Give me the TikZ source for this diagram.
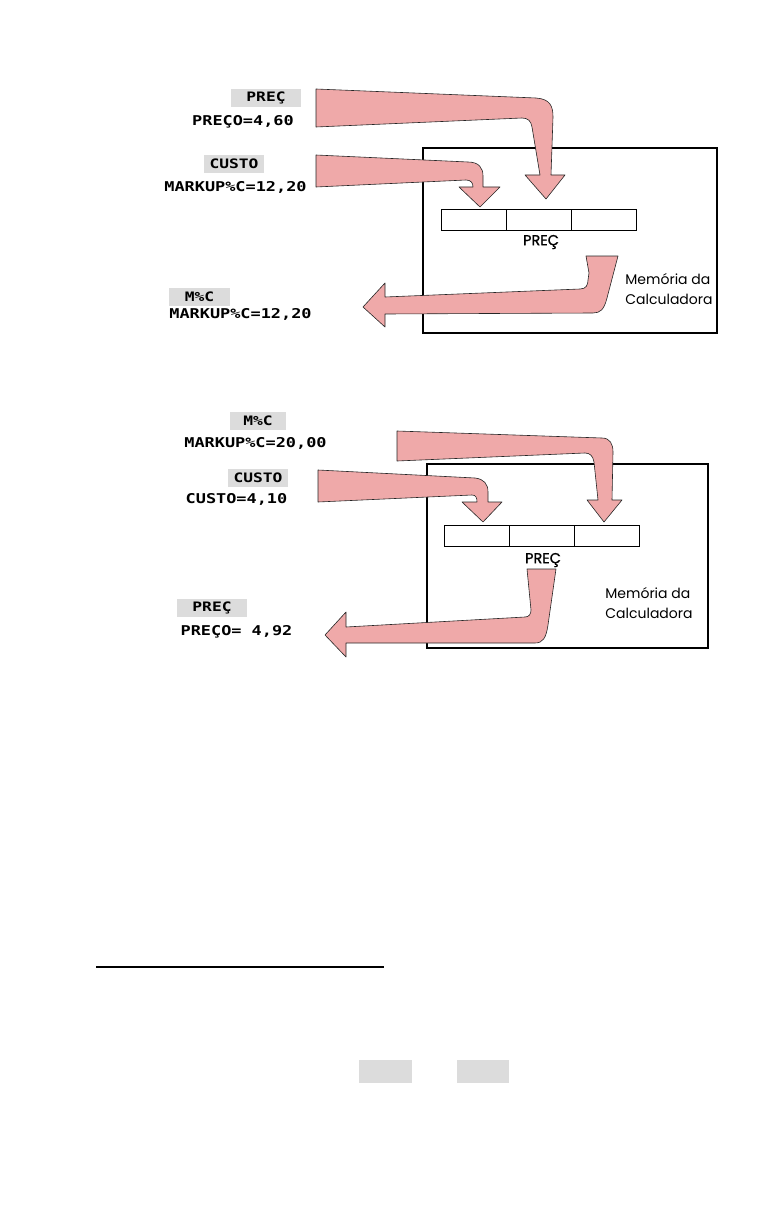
\documentclass[tikz,border=0pt]{standalone}
\usepackage{fontspec}
\newfontfamily\lcdfont[FakeStretch=1.25]{DejaVu Sans Mono}
\newfontfamily\geofont{Poppins}
\newfontfamily\geoheavy[FakeBold=1.2]{Poppins}
\definecolor{arrowpink}{RGB}{239,169,169}
\definecolor{keygray}{RGB}{220,220,220}

\begin{document}
\begin{tikzpicture}[x=1pt,y=-1pt,
	flow/.style={fill=arrowpink,draw=black!85,line width=0.6pt,line join=round},
	display/.style={inner sep=0pt,font=\lcdfont\bfseries\fontsize{13.5}{16}\selectfont},
	softkey/.style={fill=keygray,inner sep=0pt,minimum height=18pt,font=\lcdfont\bfseries\fontsize{13}{15}\selectfont},
	register/.style={draw,line width=0.9pt,minimum width=65pt,minimum height=21pt,inner sep=0pt},
	memory/.style={draw,line width=1.2pt},
	memlabel/.style={inner sep=0pt,align=left,font=\geofont\fontsize{14}{19.5}\selectfont},
	regname/.style={inner sep=0pt,font=\geoheavy\fontsize{14.5}{16}\selectfont}]
	
	\useasboundingbox (0,0) rectangle (783,1209);
	
	% ---------- first example ----------
	
	% calculator memory
	\draw[memory] (423,148) rectangle (717,333);
	\node[register] (regA1) at (473.5,219.5) {};
	\node[register] (regA2) at (538.5,219.5) {};
	\node[register] (regA3) at (603.5,219.5) {};
	\node[regname] (nameA) at (541,242) {PREÇ};
	\node[memlabel] (memA) at (669,289) {Memória da\\Calculadora};
	
	% keys and display lines
	\node[softkey,minimum width=70pt] (keyA1) at (266,98) {PREÇ};
	\node[display] (lineA1) at (243,122) {PREÇO=4,60};
	\node[softkey,minimum width=60pt] (keyA2) at (234,164) {CUSTO};
	\node[display] (lineA2) at (235.5,187) {MARKUP\%C=12,20};
	\node[softkey,minimum width=61pt] (keyA3) at (199.5,297) {M\%C};
	\node[display] (lineA3) at (240.5,314) {MARKUP\%C=12,20};
	
	% price stored
	\draw[flow] (316,89) -- (536,98) .. controls (550,99) and (553,106) .. (553,117)
		-- (551,175) -- (565,175) -- (546,199) -- (525,175) -- (540,175) -- (532,127)
		.. controls (531,121) and (528,118) .. (522,118) -- (316,127) -- cycle;
	
	% cost stored
	\draw[flow] (316,155) -- (468,162) .. controls (479,162) and (483,168) .. (483,176)
		-- (483,187) -- (500,187) -- (480,207) -- (459,187) -- (473,187)
		.. controls (473,183) and (471,180) .. (466,180) -- (316,187) -- cycle;
	
	% markup recalled
	\draw[flow] (586,256) -- (618,256) -- (607,298) .. controls (604,310) and (600,313) .. (593,313)
		-- (385,314) -- (385,327) -- (363,307) -- (385,283) -- (385,297) -- (580,289)
		.. controls (586,289) and (588,285) .. (588,280) -- (589,273) -- cycle;
	
	% ---------- second example ----------
	
	% calculator memory
	\draw[memory] (427,464) rectangle (708,648);
	\node[register] (regB1) at (476.5,536) {};
	\node[register] (regB2) at (541.5,536) {};
	\node[register] (regB3) at (606.5,536) {};
	\node[regname] (nameB) at (543,560) {PREÇ};
	\node[memlabel] (memB) at (649,603) {Memória da\\Calculadora};
	
	% keys and display lines
	\node[softkey,minimum width=56pt] (keyB1) at (258,421) {M\%C};
	\node[display] (lineB1) at (255.5,443) {MARKUP\%C=20,00};
	\node[softkey,minimum width=60pt] (keyB2) at (258,477.5) {CUSTO};
	\node[display] (lineB2) at (236.5,499) {CUSTO=4,10};
	\node[softkey,minimum width=70pt] (keyB3) at (212,608) {PREÇ};
	\node[display] (lineB3) at (236.5,632) {PREÇO= 4,92};
	
	% markup stored
	\draw[flow] (397,431) -- (602,438) .. controls (610,438) and (613,444) .. (613,452)
		-- (612,500) -- (622,500) -- (604,522) -- (587,500) -- (598,500) -- (594,462)
		.. controls (593,456) and (590,453) .. (585,453) -- (397,461) -- cycle;
	
	% cost stored
	\draw[flow] (318,470) -- (475,478) .. controls (484,479) and (488,484) .. (488,492)
		-- (488,502) -- (502,502) -- (483,522) -- (462,502) -- (477,502)
		.. controls (477,498) and (476,495) .. (472,495) -- (318,502) -- cycle;
	
	% price computed
	\draw[flow] (527,569) -- (556,569) -- (548,625) .. controls (546,638) and (543,643) .. (535,643)
		-- (346,643) -- (346,657) -- (325,635) -- (346,612) -- (346,627) -- (525,617)
		.. controls (529,617) and (531,614) .. (531,610) -- cycle;
	
	% ---------- foot of page ----------
	\draw[line width=1.2pt] (96,967) -- (384,967);
	\node[softkey,minimum width=53pt,minimum height=23pt] (blankA) at (385.5,1071.5) {};
	\node[softkey,minimum width=52pt,minimum height=23pt] (blankB) at (483,1071.5) {};
	
\end{tikzpicture}
\end{document}
